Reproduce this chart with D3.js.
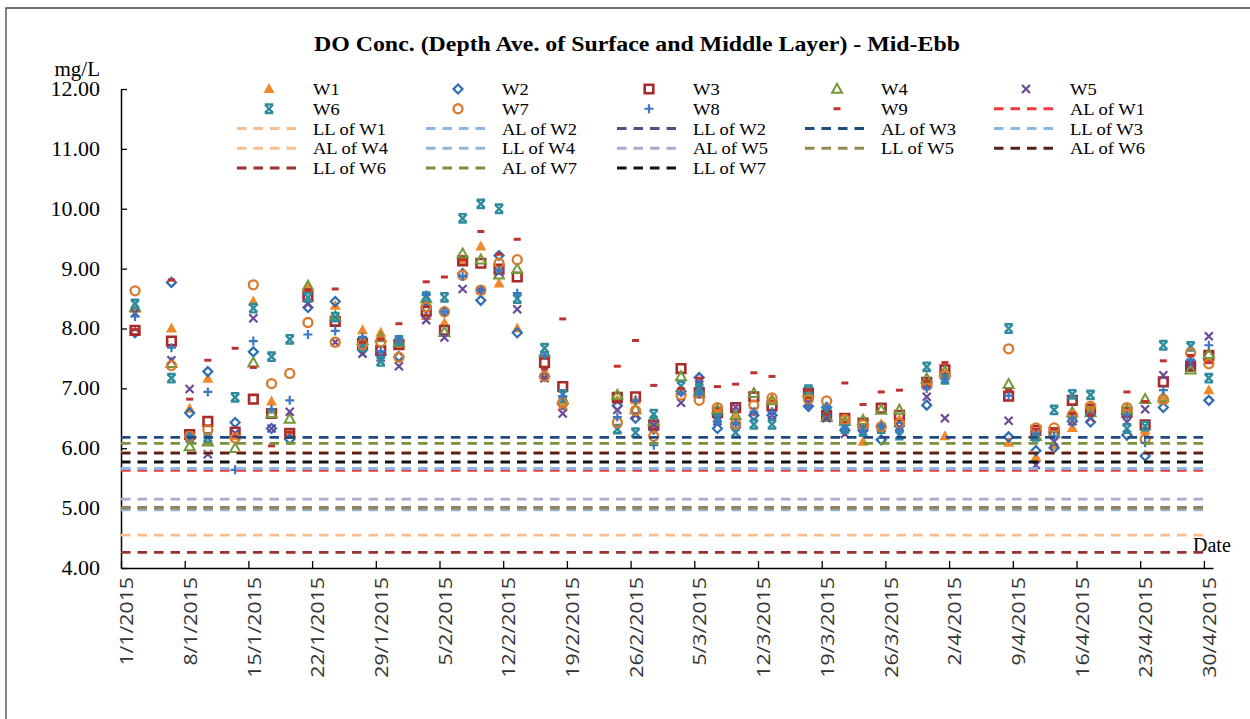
<!DOCTYPE html>
<html><head><meta charset="utf-8">
<script src="https://cdn.jsdelivr.net/npm/d3@7"></script>
<style>body{margin:0;background:#fff;} svg{display:block;}</style>
</head><body><svg id="chart" width="1250" height="719"></svg>
<script>
// ---------------- DATA ----------------
const sampleDates = ["2/1/2015","6/1/2015","8/1/2015","10/1/2015","13/1/2015","15/1/2015","17/1/2015","19/1/2015","21/1/2015","24/1/2015",
  "27/1/2015","29/1/2015","31/1/2015","3/2/2015","5/2/2015","7/2/2015","9/2/2015","11/2/2015","13/2/2015","16/2/2015",
  "18/2/2015","24/2/2015","26/2/2015","28/2/2015","3/3/2015","5/3/2015","7/3/2015","9/3/2015","11/3/2015","13/3/2015",
  "17/3/2015","19/3/2015","21/3/2015","23/3/2015","25/3/2015","27/3/2015","30/3/2015","1/4/2015","8/4/2015","11/4/2015",
  "13/4/2015","15/4/2015","17/4/2015","21/4/2015","23/4/2015","25/4/2015","28/4/2015","30/4/2015"];
const sampleHour = 13; // mid-ebb sampling time of day

const seriesNames = ["W1","W2","W3","W4","W5","W6","W7","W8","W9"];
const W1 = [8.33,8.00,6.66,7.16,6.20,8.45,6.78,6.22,8.68,8.38, 7.97,7.93,7.72,8.21,8.09,9.15,9.37,8.75,8.00,7.25,
  6.70,6.80,6.80,6.35,6.95,6.98,6.62,6.50,6.60,6.82, 6.85,6.52,6.45,6.11,6.40,6.48,7.08,6.20,6.09,5.85,
  6.05,6.34,6.70,6.62,6.30,6.80,7.35,6.97];
const W2 = [7.93,8.77,6.59,7.28,6.43,7.61,6.33,6.15,8.35,8.45, 7.64,7.56,7.53,8.34,8.28,8.92,8.47,9.22,7.93,7.20,
  6.73,6.71,6.50,6.32,6.95,7.18,6.33,6.35,6.55,6.55, 6.70,6.68,6.30,6.30,6.14,6.37,6.72,7.18,6.19,5.96,
  6.01,6.45,6.44,6.22,5.87,6.68,7.38,6.80];
const W3 = [7.97,7.79,6.23,6.45,6.27,6.82,6.58,6.25,8.53,8.12, 7.75,7.63,7.73,8.29,7.97,9.13,9.09,8.99,8.86,7.43,
  7.03,6.85,6.86,6.39,7.33,6.93,6.60,6.68,6.86,6.71, 6.92,6.55,6.50,6.42,6.67,6.55,7.10,7.31,6.87,6.30,
  6.26,6.80,6.65,6.60,6.39,7.11,7.37,7.55];
const W4 = [8.35,7.42,6.03,6.11,6.00,7.43,6.58,6.49,8.71,8.20, 7.80,7.85,7.77,8.50,7.94,9.25,9.15,8.90,8.99,7.60,
  6.82,6.89,6.65,6.45,7.20,6.95,6.65,6.55,6.92,6.80, 6.93,6.52,6.45,6.47,6.64,6.64,7.16,7.28,7.07,6.20,
  6.25,6.60,6.60,6.65,6.82,6.85,7.31,7.57];
const W5 = [8.26,7.47,6.99,5.90,6.25,8.17,6.33,6.61,8.41,7.77, 7.58,7.51,7.37,8.14,7.85,8.66,8.64,8.94,8.32,7.17,
  6.58,6.64,6.55,6.39,6.76,7.06,6.45,6.69,6.62,6.55, 6.75,6.50,6.24,6.33,6.35,6.35,6.86,6.50,6.46,5.72,
  6.11,6.45,6.50,6.44,6.65,7.22,7.42,7.87];
const W6 = [8.41,7.17,6.18,6.18,6.85,8.34,7.53,7.82,8.52,8.19, 7.70,7.45,7.80,8.53,8.52,9.84,10.08,10.00,8.50,7.67,
  6.90,6.32,6.26,6.57,7.04,7.00,6.50,6.26,6.40,6.40, 6.98,6.62,6.33,6.28,6.33,6.22,7.36,7.15,8.00,6.20,
  6.64,6.90,6.89,6.33,6.37,7.72,7.70,7.17];
const W7 = [8.63,7.38,6.20,6.31,6.17,8.73,7.08,7.25,8.10,7.77, 7.73,7.78,7.52,8.36,8.28,8.89,8.64,9.09,9.15,7.20,
  6.76,6.43,6.63,6.20,6.89,6.80,6.68,6.40,6.72,6.84, 6.82,6.79,6.48,6.39,6.36,6.42,7.05,7.22,7.66,6.34,
  6.34,6.55,6.70,6.68,6.15,6.82,7.59,7.41];
const W8 = [8.20,7.68,6.20,6.94,5.64,7.79,6.65,6.80,7.90,7.96, 7.86,7.62,7.82,8.56,8.28,8.87,8.64,8.97,8.59,7.55,
  6.87,6.52,6.80,6.05,6.93,6.90,6.45,6.42,6.61,6.61, 6.69,6.70,6.33,6.30,6.37,6.30,7.00,7.15,6.88,6.24,
  6.20,6.50,6.55,6.55,6.09,6.97,7.48,7.72];
const W9 = [7.98,8.81,6.82,7.47,7.67,7.35,6.04,6.27,8.65,8.66, 7.77,7.82,8.08,8.78,8.86,9.15,9.62,9.24,9.49,7.32,
  8.16,7.37,7.80,7.05,7.00,7.17,7.03,7.07,7.26,7.20, 6.97,6.57,7.09,6.73,6.94,6.97,7.12,7.43,6.97,6.32,
  6.32,6.58,6.55,6.94,6.78,7.46,7.55,7.43];
const seriesValues = [W1,W2,W3,W4,W5,W6,W7,W8,W9];

const limitNames  = ["AL of W1","LL of W1","AL of W2","LL of W2","AL of W3","LL of W3","AL of W4",
                     "LL of W4","AL of W5","LL of W5","AL of W6","LL of W6","AL of W7","LL of W7"];
const limitValues = [5.63,4.55,5.66,5.01,6.18,5.66,5.93,4.97,5.15,5.00,5.92,4.26,6.08,5.77];
const limitStart = "1/1/2015", limitEnd = "30/4/2015";

const yTickValues = [4,5,6,7,8,9,10,11,12];
const xTickLabels = ["1/1/2015","8/1/2015","15/1/2015","22/1/2015","29/1/2015","5/2/2015","12/2/2015","19/2/2015",
  "26/2/2015","5/3/2015","12/3/2015","19/3/2015","26/3/2015","2/4/2015","9/4/2015","16/4/2015","23/4/2015","30/4/2015"];
const xDomain = ["1/1/2015","1/5/2015"];
const yDomain = [4,12];

// ---------------- STYLE ----------------
const seriesColors = ["#F0892A","#2F6DB5","#A82A2A","#72993B","#6A4A96","#2F8C9E","#D97A2C","#3A78C4","#C0302E"];
const limitColors = ["#F03A3A","#FBBE8A","#8DB4E2","#5E4A7E","#214A82","#8DB4E2","#FBBE8A",
                     "#95B3D7","#B6A3D0","#938953","#5A1E1E","#9B3230","#76933C","#111111"];

const parseDMY = s => { const [d,m,y] = s.split("/").map(Number); return new Date(y, m-1, d); };
const stretch = (sel, k) => sel.each(function(){
  const len = this.getComputedTextLength();
  d3.select(this).attr("textLength", len*k).attr("lengthAdjust","spacingAndGlyphs");
});

const svg = d3.select("#chart");
const serif = "'Liberation Serif','Times New Roman',serif";

// frame
svg.append("path").attr("d","M6,719 V8 H1250").attr("fill","none").attr("stroke","#444").attr("stroke-width",1.3);

const x = d3.scaleTime().domain(xDomain.map(parseDMY)).range([121,1213]);
const y = d3.scaleLinear().domain(yDomain).range([568,89]);

// title
svg.append("text").attr("x",637).attr("y",51).attr("text-anchor","middle")
  .style("font-family",serif).style("font-weight","bold").style("font-size","20px")
  .text("DO Conc. (Depth Ave. of Surface and Middle Layer) - Mid-Ebb")
  .attr("textLength",646).attr("lengthAdjust","spacingAndGlyphs");

svg.append("text").attr("x",100).attr("y",76).attr("text-anchor","end")
  .style("font-family",serif).style("font-size","20px").text("mg/L").call(stretch,1.05);
svg.append("text").attr("x",1193).attr("y",552)
  .style("font-family",serif).style("font-size","20px").text("Date");

// axes
const yAxis = svg.append("g").attr("transform","translate(121,0)")
  .call(d3.axisLeft(y).tickValues(yTickValues).tickFormat(d3.format(".2f"))
        .tickSizeInner(-6).tickSizeOuter(0).tickPadding(21));
yAxis.select(".domain").attr("stroke","#000").attr("stroke-width",1.5);
yAxis.selectAll(".tick line").attr("stroke","#000").attr("stroke-width",1.3);
yAxis.selectAll(".tick text").style("font-family",serif).style("font-size","20px").attr("fill","#000").call(stretch,1.1);

const xAxis = svg.append("g").attr("transform","translate(0,568)")
  .call(d3.axisBottom(x).tickValues(xTickLabels.map(parseDMY)).tickFormat((d,i)=>xTickLabels[i])
        .tickSizeInner(-7).tickSizeOuter(0));
xAxis.select(".domain").attr("stroke","#000").attr("stroke-width",1.5);
xAxis.selectAll(".tick line").attr("stroke","#000").attr("stroke-width",1.3);
xAxis.selectAll(".tick text")
  .attr("transform","rotate(-90)").attr("x",-9).attr("y",5).attr("dy","0.35em")
  .style("text-anchor","end").style("font-family","'Open Sans',sans-serif").style("font-size","19px").attr("fill","#333")
  .call(stretch,1.12);

// marker shapes
const shapes = [
  {d:"M0,-6L5.5,4L-5.5,4Z", fill:true},                        // triangle filled
  {d:"M0,-4.5L4.5,0L0,4.5L-4.5,0Z", fill:false, w:2.2},          // diamond
  {d:"M-4.3,-4.3H4.3V4.3H-4.3Z", fill:false, w:2.6},            // square
  {d:"M0,-5.2L5,3.8L-5,3.8Z", fill:false, w:2},                 // triangle outline
  {d:"M-4,-4L4,4M4,-4L-4,4", fill:false, w:2.2},                // x
  {d:"M-4.2,-4.2H4.2M-4.2,4.2H4.2M-4,-4L4,4M4,-4L-4,4", fill:false, w:2.4}, // star-like
  {d:"M4.5,0A4.5,4.5 0 1 1 -4.5,0A4.5,4.5 0 1 1 4.5,0Z", fill:false, w:2.3}, // circle
  {d:"M-4.5,0H4.5M0,-4.5V4.5", fill:false, w:2.2},              // plus
  {d:"M-3.5,-1.5H3.5V1.5H-3.5Z", fill:true}                     // dash
];
const styleShape = (sel,i) => {
  const s = shapes[i];
  sel.attr("d",s.d)
    .attr("fill", s.fill ? seriesColors[i] : "none")
    .attr("stroke", s.fill ? "none" : seriesColors[i])
    .attr("stroke-width", s.w || 0);
};

// markers
const when = sampleDates.map(s => { const d = parseDMY(s); d.setHours(sampleHour); return d; });
seriesValues.forEach((vals,i) => {
  const g = svg.append("g");
  g.selectAll("path").data(vals).join("path")
    .attr("transform",(v,j)=>`translate(${x(when[j])},${y(v)})`)
    .call(styleShape,i);
});

// limit lines
const line = d3.line().x(d=>x(d[0])).y(d=>y(d[1]));
limitValues.forEach((v,i)=>{
  svg.append("path").attr("d", line([[parseDMY(limitStart),v],[parseDMY(limitEnd),v]]))
    .attr("fill","none").attr("stroke",limitColors[i]).attr("stroke-width",2.8)
    .attr("stroke-dasharray","9.5,7");
});

// legend
const legendItems = seriesNames.map((n,i)=>({name:n, type:"m", i}))
  .concat(limitNames.map((n,i)=>({name:n, type:"l", i})));
const colX = [237,426,617,805,994];
legendItems.forEach((it,k)=>{
  const cx = colX[k%5], cy = 89 + Math.floor(k/5)*19.75;
  if (it.type==="m") {
    svg.append("path").attr("transform",`translate(${cx+32},${cy})`).call(styleShape,it.i);
  } else {
    svg.append("line").attr("x1",cx).attr("x2",cx+63).attr("y1",cy).attr("y2",cy)
      .attr("stroke",limitColors[it.i]).attr("stroke-width",2.8).attr("stroke-dasharray","9.5,7");
  }
  svg.append("text").attr("x",cx+76).attr("y",cy+6)
    .style("font-family",serif).style("font-size","16.5px").text(it.name).call(stretch,1.12);
});
</script></body></html>
